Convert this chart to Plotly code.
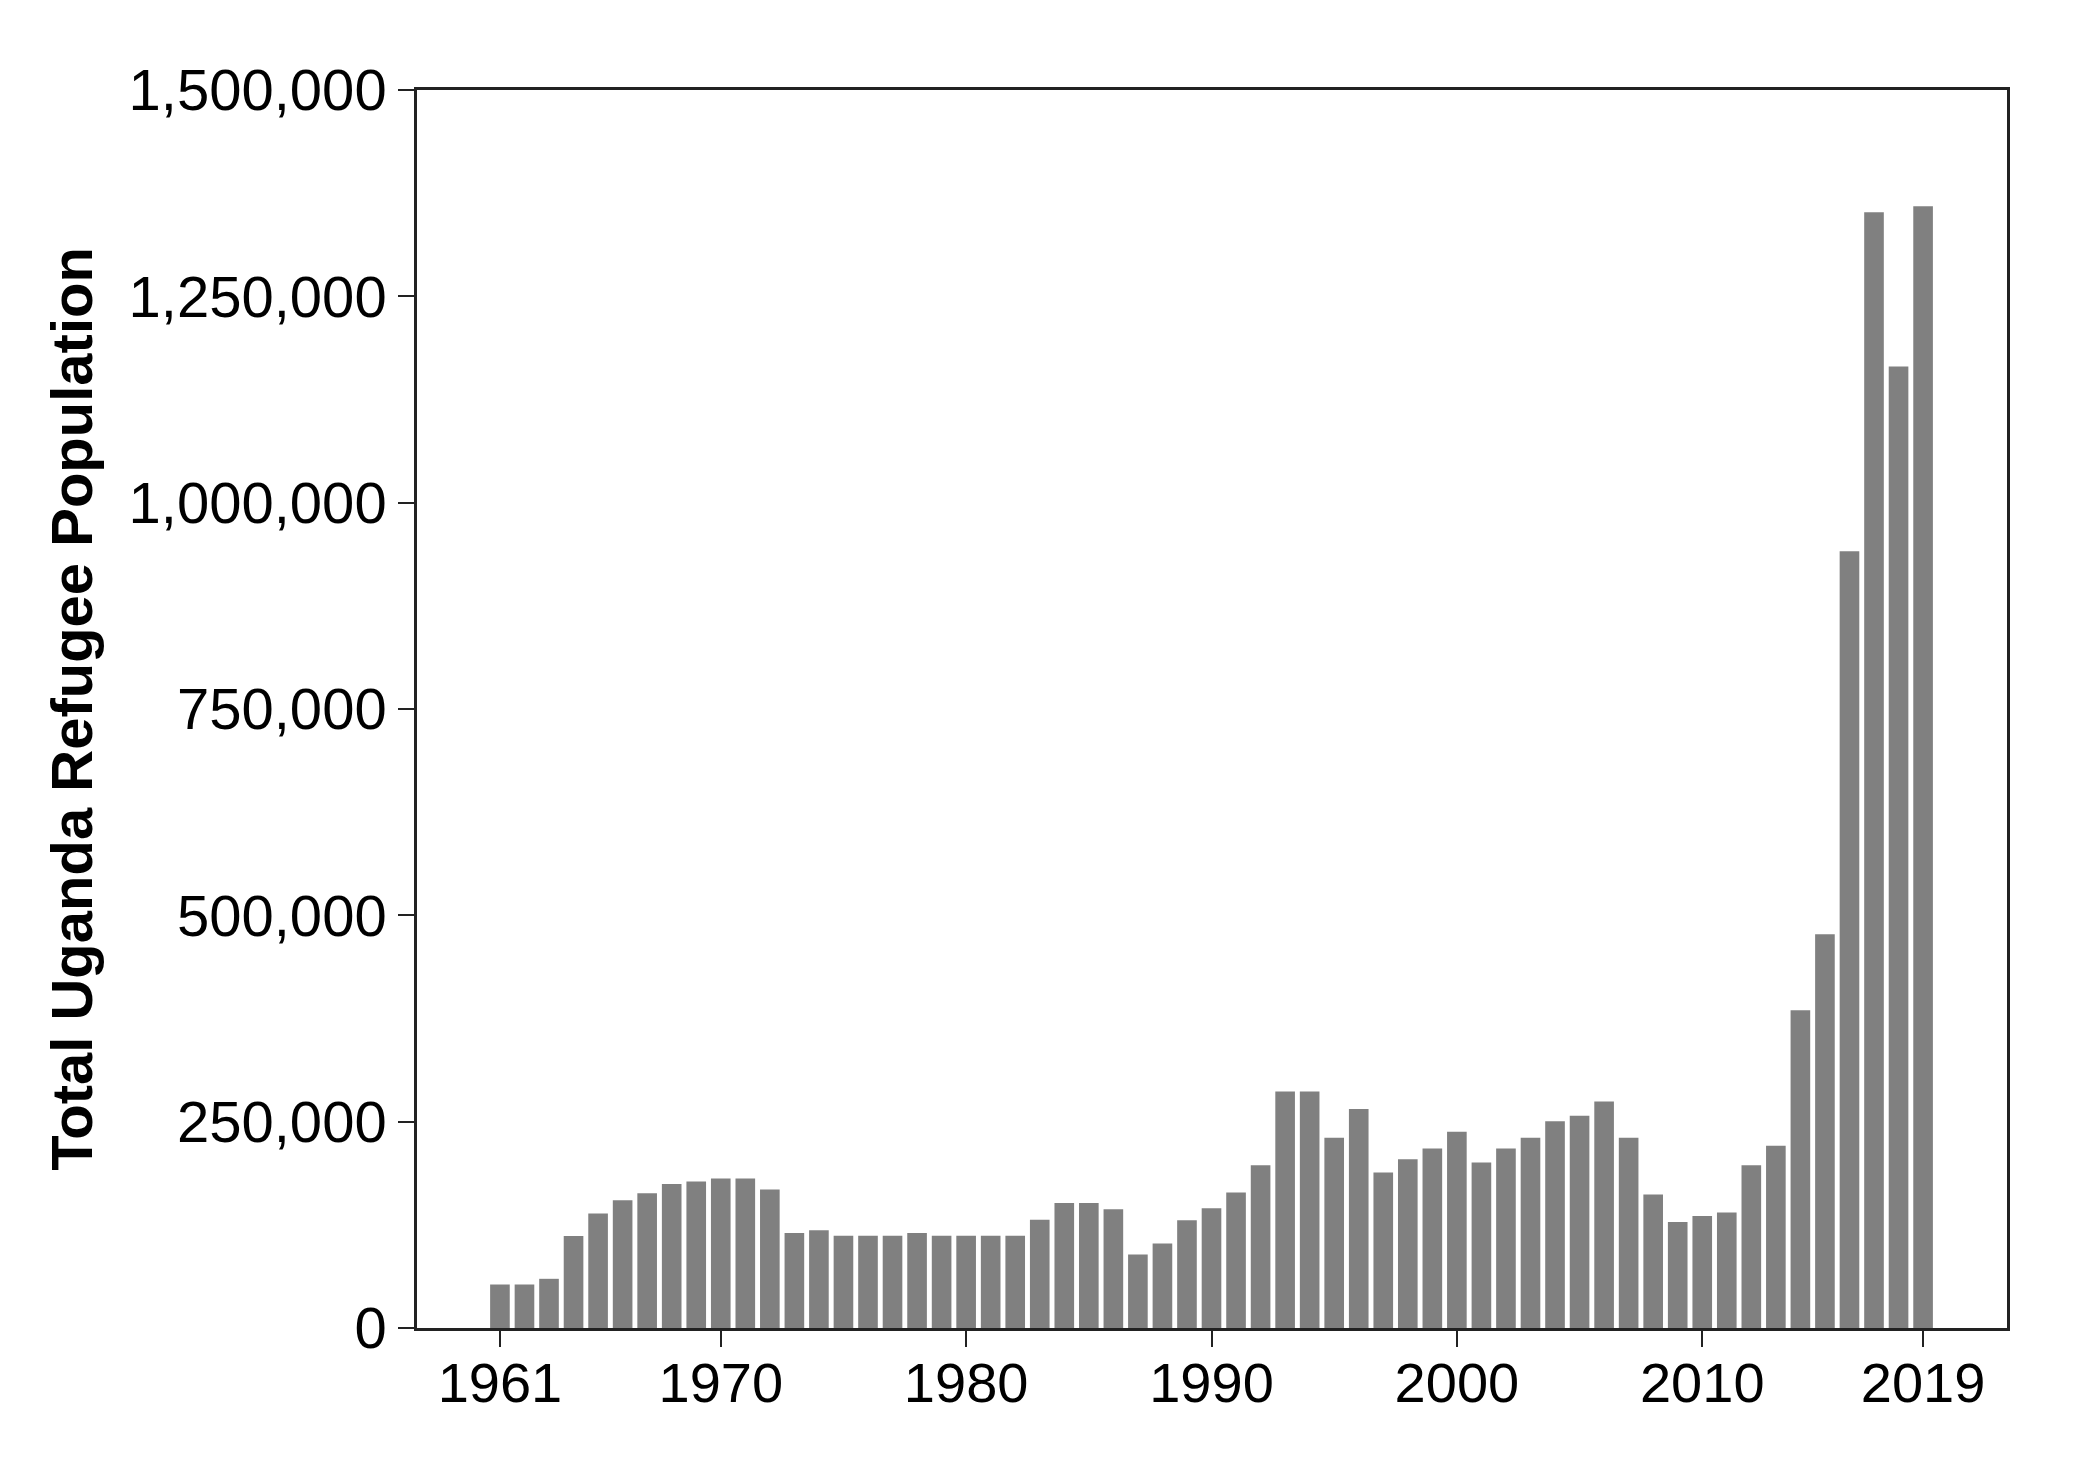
import plotly.graph_objects as go

years = list(range(1961, 2020))
refugees = [
    52700, 52700, 59600, 111400, 138600, 154800, 163300, 174600, 177500, 181100,  # 1961-1970
    181100, 167700, 115100, 118300, 111800, 111800, 111800, 115100, 111800, 111800,  # 1971-1980
    111800, 111800, 131300, 151500, 151500, 143800, 89100, 102500, 130500, 145100,  # 1981-1990
    164100, 197300, 286500, 286500, 230600, 265400, 188400, 204600, 217600, 237800,  # 1991-2000
    200600, 217600, 230600, 250400, 257300, 274300, 230600, 161700, 128400, 135700,  # 2001-2010
    139800, 197300, 220900, 385000, 477000, 941000, 1352000, 1165000, 1359000,  # 2011-2019
]
x_tickvals = [1961, 1970, 1980, 1990, 2000, 2010, 2019]
y_tickvals = [0, 250000, 500000, 750000, 1000000, 1250000, 1500000]
y_title = "Total Uganda Refugee Population"

fig = go.Figure(
    go.Bar(
        x=years,
        y=refugees,
        width=0.8,
        marker=dict(color="#808080", line=dict(width=0)),
    )
)

x_font = dict(family="Liberation Sans, Arial, sans-serif", size=56, color="#000000")
y_font = dict(family="Liberation Sans, Arial, sans-serif", size=58, color="#000000")

fig.update_layout(
    width=2080,
    height=1472,
    paper_bgcolor="white",
    plot_bgcolor="white",
    margin=dict(l=409, r=81, t=82, b=152, autoexpand=False),
    showlegend=False,
    font=x_font,
)

fig.update_xaxes(
    range=[1957.62, 2022.42],
    tickvals=x_tickvals,
    ticktext=[str(v) for v in x_tickvals],
    ticks="outside",
    ticklen=16,
    tickwidth=2,
    tickcolor="#222222",
    ticklabelstandoff=-12,
    showline=True,
    linecolor="#222222",
    linewidth=2.5,
    mirror=True,
    showgrid=False,
    zeroline=False,
    tickfont=x_font,
)

fig.update_yaxes(
    range=[0, 1500000],
    tickvals=y_tickvals,
    tickformat=",d",
    ticks="outside",
    ticklen=16,
    tickwidth=2,
    tickcolor="#222222",
    showline=True,
    linecolor="#222222",
    linewidth=2.5,
    mirror=True,
    showgrid=False,
    zeroline=False,
    tickfont=y_font,
    title=dict(
        text="<b>" + y_title + "</b>",
        font=dict(family="Liberation Sans, Arial, sans-serif", size=58, color="#000000"),
        standoff=18,
    ),
)

fig.write_html("out.html")
